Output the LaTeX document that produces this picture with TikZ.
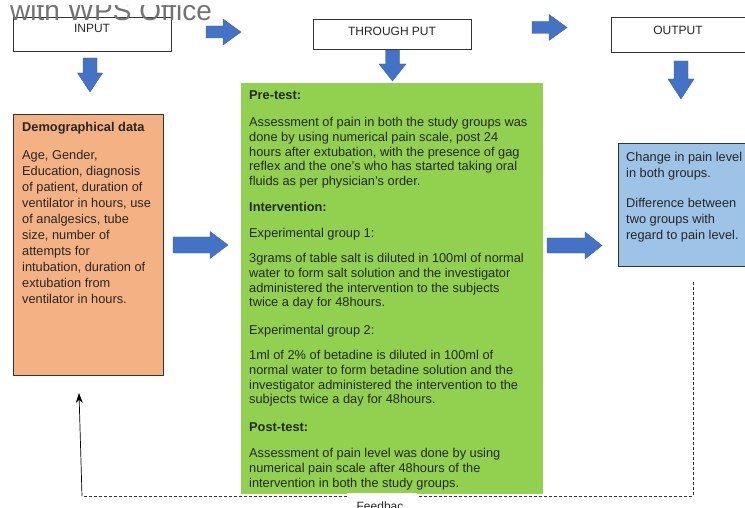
\documentclass[tikz,border=0pt]{standalone}
\usepackage{fontspec}
\setmainfont{Liberation Sans}
\usetikzlibrary{arrows.meta}
\definecolor{txt}{HTML}{262626}
\definecolor{arrowblue}{HTML}{4472C4}
\definecolor{orangefill}{HTML}{F4B183}
\definecolor{greenfill}{HTML}{92D050}
\definecolor{bluefill}{HTML}{9DC3E6}
\definecolor{edge}{HTML}{333333}
\newcommand{\RBlock}[6]{% x1 x2 yc shafthalf headhalf headlen
  \filldraw[blockarrow] (#1,#3-#4) -- (#2-#6,#3-#4) -- (#2-#6,#3-#5) -- (#2,#3)
    -- (#2-#6,#3+#5) -- (#2-#6,#3+#4) -- (#1,#3+#4) -- cycle;}
\newcommand{\DBlock}[6]{% xc y1 y2 shafthalf headhalf headlen
  \filldraw[blockarrow] (#1-#4,#2) -- (#1-#4,#3-#6) -- (#1-#5,#3-#6) -- (#1,#3)
    -- (#1+#5,#3-#6) -- (#1+#4,#3-#6) -- (#1+#4,#2) -- cycle;}
\begin{document}
\begin{tikzpicture}[x=1pt,y=-1pt,
  blockarrow/.style={fill=arrowblue, draw=arrowblue!85!black, line width=0.4pt},
  headbox/.style={draw=edge, fill=white, line width=0.8pt, inner sep=0pt},
  headtext/.style={anchor=base, inner sep=0pt, text=black!85, font=\fontsize{12}{14}\selectfont},
  body/.style={anchor=north west, inner sep=0pt, align=left, text=txt,
    font=\fontsize{12.8}{14.8}\selectfont},
  orbody/.style={body, font=\fontsize{12.8}{16}\selectfont},
  blbody/.style={body, font=\fontsize{12.8}{16.5}\selectfont},
  bold/.style={body, font=\fontsize{12.8}{14.8}\selectfont\bfseries},
  panel/.style={inner sep=0pt}]
\useasboundingbox (0,0) rectangle (745,508);
\clip (0,0) rectangle (745,508);

% header boxes
\node[headbox, minimum width=158pt, minimum height=34pt] (inbox) at (92,34) {};
\node[headtext] (intext) at (92,33) {INPUT};
\node[headbox, minimum width=158pt, minimum height=30pt] (tpbox) at (392,34) {};
\node[headtext] (tptext) at (392,35.5) {THROUGH PUT};
\node[headbox, minimum width=136pt, minimum height=35pt] (outbox) at (679,34.5) {};
\node[headtext] (outtext) at (678,35) {OUTPUT};

% block arrows
\RBlock{206}{241}{32}{6}{13}{18}
\RBlock{532}{567}{27.5}{6}{13}{18}
\DBlock{90}{58}{92}{7}{12.5}{19}
\DBlock{392.5}{50}{81}{7}{13.5}{17}
\DBlock{681}{61}{99}{7}{13}{20}
\RBlock{173}{228}{245}{8}{13.5}{18}
\RBlock{547}{602}{245.5}{7.5}{13.5}{17}

% panels
\node[panel, draw=edge, line width=1pt, fill=orangefill, minimum width=150pt, minimum height=260pt] (orange) at (88,245) {};
\node[panel, fill=greenfill, minimum width=302pt, minimum height=411pt] (green) at (392,288.5) {};
\node[panel, draw=edge, line width=1pt, fill=bluefill, minimum width=129pt, minimum height=122pt] (blue) at (682.5,205) {};

% orange text
\node[bold] (demo) at (22,122) {Demographical data};
\node[orbody] (demobody) at (22,150) {Age, Gender,\\Education, diagnosis\\of patient, duration of\\ventilator in hours, use\\of analgesics, tube\\size, number of\\attempts for\\intubation, duration of\\extubation from\\ventilator in hours.};

% green text
\node[bold] (pre) at (249,90) {Pre-test:};
\node[body] (prebody) at (249,117) {Assessment of pain in both the study groups was\\done by using numerical pain scale, post 24\\hours after extubation, with the presence of gag\\reflex and the one’s who has started taking oral\\fluids as per physician’s order.};
\node[bold] (inter) at (249,202) {Intervention:};
\node[body] (g1) at (249,228) {Experimental group 1:};
\node[body] (g1body) at (249,253) {3grams of table salt is diluted in 100ml of normal\\water to form salt solution and the investigator\\administered the intervention to the subjects\\twice a day for 48hours.};
\node[body] (g2) at (249,325) {Experimental group 2:};
\node[body] (g2body) at (249,350) {1ml of 2\% of betadine is diluted in 100ml of\\normal water to form betadine solution and the\\investigator administered the intervention to the\\subjects twice a day for 48hours.};
\node[bold] (post) at (249,422) {Post-test:};
\node[body] (postbody) at (249,448) {Assessment of pain level was done by using\\numerical pain scale after 48hours of the\\intervention in both the study groups.};

% blue text
\node[blbody] (out1) at (626,152) {Change in pain level\\in both groups.};
\node[body, font=\fontsize{12.8}{16}\selectfont] (out2) at (626,198) {Difference between\\two groups with\\regard to pain level.};

% feedback loop
\coordinate (fbstart) at (693,282);
\coordinate (fbleft) at (82,496);
\coordinate (fbtip) at (79,393);
\draw[densely dashed, draw=edge, line width=0.7pt] (fbstart) |- (fbleft);
\draw[draw=black, line width=0.7pt, -{Stealth[length=10pt,width=7pt]}] (fbleft) -- (fbtip);
\node[fill=white, inner sep=0pt, minimum width=70pt, minimum height=24pt, anchor=north] (fblabelbg) at (382,493) {};
\node[anchor=base, inner sep=0pt, text=txt, font=\fontsize{12}{14}\selectfont] (fblabel) at (380,510) {Feedbac};

% watermark (top cut off as in the reference)
\begin{scope}
\clip (0,6) rectangle (745,508);
\node[anchor=base west, inner sep=0pt, text=black!55, font=\fontsize{28}{30}\selectfont] (wm) at (10,20.5) {with WPS Office};
\end{scope}
\end{tikzpicture}
\end{document}
